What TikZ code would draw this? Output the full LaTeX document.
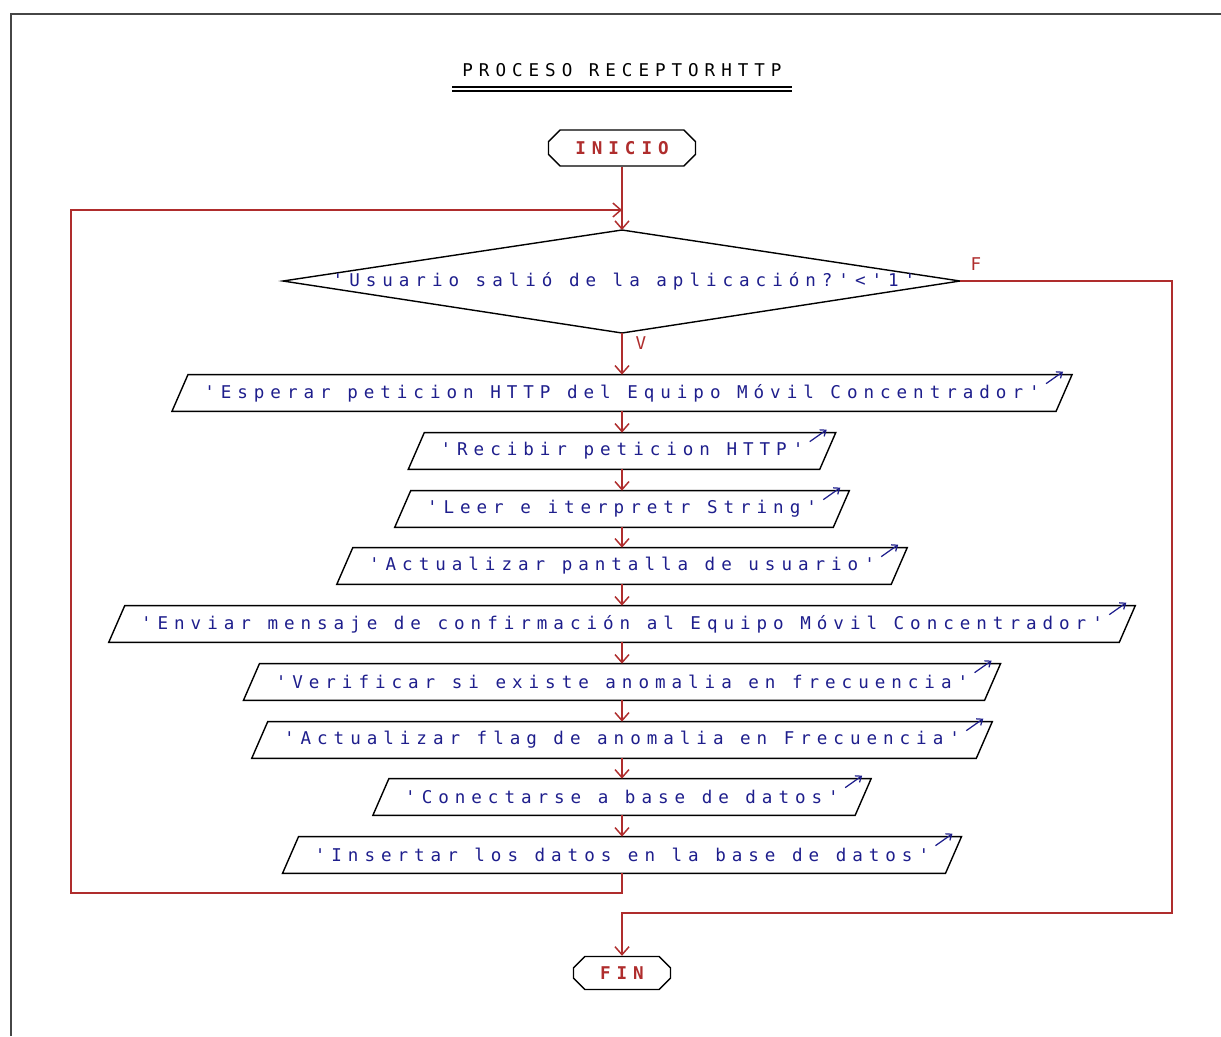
\documentclass[tikz,border=0pt]{standalone}
\usepackage{fontspec}
\usetikzlibrary{arrows.meta,shapes.misc}

% wide-pitch monospaced face used for every label of the chart
\newfontfamily\flowfont[LetterSpace=34,Ligatures=TeXOff]{DejaVu Sans Mono}

\definecolor{flowred}{RGB}{175,45,45}
\definecolor{textblue}{RGB}{30,30,140}
\definecolor{framegray}{RGB}{70,70,70}

% an input/output parallelogram: a text node plus its slanted outline and the small output arrow
\newcommand\ioshape[3]{%
  \node[iobox] (#1) at (622,#2) {#3};
  \draw[boxline] (#1.south west) -- ([xshift=0.32cm]#1.north west) -- (#1.north east)
        -- ([xshift=-0.32cm]#1.south east) -- cycle;
  \draw[outarrow] ([xshift=-0.52cm,yshift=-0.18cm]#1.north east)
        -- ([xshift=-0.18cm,yshift=0.06cm]#1.north east);
}

\begin{document}
\begin{tikzpicture}[
  x=0.02cm, y=-0.02cm,
  chart/.style={font=\flowfont\fontsize{10pt}{12pt}\selectfont},
  frameline/.style={draw=framegray, line width=1.4pt},
  boxline/.style={draw=black, line width=0.8pt},
  link/.style={draw=flowred, line width=0.85pt},
  flow/.style={link, -{Straight Barb[length=0.16cm,width=0.28cm]}},
  outarrow/.style={draw=textblue, line width=0.7pt, -{Straight Barb[length=0.1cm,width=0.16cm]}},
  iobox/.style={chart, rectangle, minimum height=0.72cm, inner xsep=0.64cm, inner ysep=0pt, text=textblue},
  terminal/.style={chamfered rectangle, chamfered rectangle xsep=0.2cm, draw=black,
                   line width=0.8pt, inner sep=0pt, text=flowred, font=\flowfont\fontsize{10pt}{12pt}\selectfont\bfseries},
  titletext/.style={chart, text=black, inner sep=0pt},
  branch/.style={chart, text=flowred, inner sep=0pt},
  decision/.style={chart, text=textblue, inner sep=0pt}
]
\useasboundingbox (0,0) rectangle (1221,1036);

% window frame
\draw[frameline] (11,1036) -- (11,14) -- (1221,14);

% title with its double underline
\node[titletext] (title) at (622,70) {PROCESO RECEPTORHTTP};
\draw[black, line width=0.6pt] (452,87) -- (792,87) (452,91) -- (792,91);

% start and end terminals
\node[terminal, minimum width=2.94cm, minimum height=0.72cm] (ini) at (622,148) {INICIO};
\node[terminal, minimum width=1.94cm, minimum height=0.66cm] (fin) at (622,973) {FIN};

% decision
\coordinate (dtop) at (622,230);
\coordinate (dbot) at (622,333);
\coordinate (dleft) at (283,281);
\coordinate (dright) at (960,281);
\draw[boxline] (dtop) -- (dright) -- (dbot) -- (dleft) -- cycle;
\node[decision] (dec) at (624,281) {'Usuario salió de la aplicación?'<'1'};

% input/output steps
\ioshape{p1}{393}{'Esperar peticion HTTP del Equipo Móvil Concentrador'}
\ioshape{p2}{451}{'Recibir peticion HTTP'}
\ioshape{p3}{509}{'Leer e iterpretr String'}
\ioshape{p4}{566}{'Actualizar pantalla de usuario'}
\ioshape{p5}{624}{'Enviar mensaje de confirmación al Equipo Móvil Concentrador'}
\ioshape{p6}{682}{'Verificar si existe anomalia en frecuencia'}
\ioshape{p7}{740}{'Actualizar flag de anomalia en Frecuencia'}
\ioshape{p8}{797}{'Conectarse a base de datos'}
\ioshape{p9}{855}{'Insertar los datos en la base de datos'}

% main flow
\draw[flow] (ini.south) -- (dtop);
\draw[flow] (dbot) -- (p1.north);
\foreach \a/\b in {p1/p2,p2/p3,p3/p4,p4/p5,p5/p6,p6/p7,p7/p8,p8/p9}
  \draw[flow] (\a.south) -- (\b.north);

% loop back to the decision
\coordinate (lb) at (71,893);
\coordinate (lt) at (71,210);
\coordinate (join) at (622,210);
\draw[flow] (p9.south) |- (lb) -- (lt) -- (join);

% exit branch
\coordinate (fr) at (1172,281);
\coordinate (fm) at (622,913);
\draw[flow] (dright) -- (fr) |- (fm) -- (fin.north);

% branch labels
\node[branch] (vlab) at (641,343) {V};
\node[branch] (flab) at (976,264) {F};
\end{tikzpicture}
\end{document}
